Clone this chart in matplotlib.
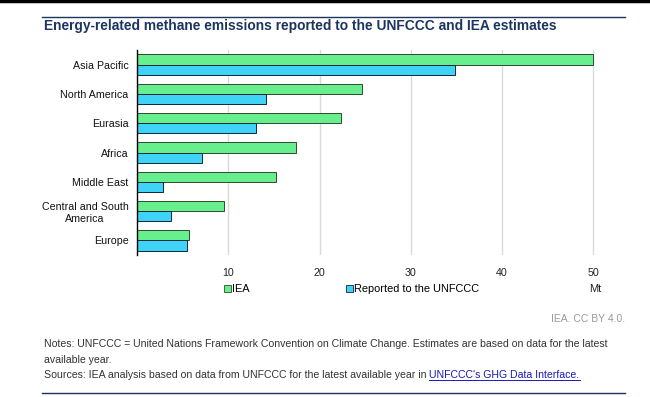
import matplotlib
matplotlib.use("Agg")
import matplotlib.pyplot as plt
import numpy as np
from matplotlib.lines import Line2D
from matplotlib.patches import Patch

plt.rcParams['font.family'] = ['Liberation Sans', 'DejaVu Sans']

# data (Mt)
regions = ["Asia Pacific", "North America", "Eurasia", "Africa", "Middle East",
           "Central and South\nAmerica", "Europe"]
iea = [49.9, 24.7, 22.4, 17.4, 15.2, 9.5, 5.7]
unfccc = [34.8, 14.1, 13.0, 7.1, 2.8, 3.7, 5.5]
xticks = [10, 20, 30, 40, 50]

green = "#66ef8c"
blue = "#3ed3f7"
navy = "#1c3560"

fig = plt.figure(figsize=(6.5, 3.97), dpi=100)
ax = fig.add_axes([137 / 650, 1 - 255 / 397, (602.6 - 137) / 650, 205 / 397])

y = np.arange(len(regions))
h = 0.35
ax.barh(y - h / 2, iea, height=h, color=green, edgecolor="#2f4a2f", linewidth=0.7, zorder=3)
ax.barh(y + h / 2, unfccc, height=h, color=blue, edgecolor="#10283a", linewidth=0.7, zorder=3)

ax.set_ylim(len(regions) - 0.5, -0.5)
ax.set_xlim(0, 51)
ax.set_yticks(y)
ax.set_yticklabels(regions, fontsize=7.7, color="#111111")
for t in ax.get_yticklabels():
    t.set_multialignment("center")
ax.set_xticks(xticks)
ax.set_xticklabels([str(v) for v in xticks], fontsize=7.7, color="#222222")
ax.tick_params(axis="both", length=0)
ax.tick_params(axis="y", pad=6)
ax.tick_params(axis="x", pad=9)
ax.grid(axis="x", color="#dadada", linewidth=1, zorder=0)
for s in ["top", "right", "bottom"]:
    ax.spines[s].set_visible(False)
ax.spines["left"].set_color("black")
ax.spines["left"].set_linewidth(1)
ax.spines["left"].set_zorder(4)

# legends placed apart like the reference
leg_kw = dict(frameon=False, fontsize=7.9, handlelength=0.6, handleheight=0.6,
              handletextpad=0.15, borderpad=0, borderaxespad=0)
leg1 = fig.legend(handles=[Patch(facecolor=green, edgecolor="#2f4a2f", linewidth=0.6, label="IEA")],
                  loc="center left", bbox_to_anchor=(224 / 650, 1 - 289 / 397), **leg_kw)
leg2 = fig.legend(handles=[Patch(facecolor=blue, edgecolor="#10283a", linewidth=0.6,
                                 label="Reported to the UNFCCC")],
                  loc="center left", bbox_to_anchor=(346 / 650, 1 - 289 / 397), **leg_kw)
fig.text(595 / 650, 1 - 289 / 397, "Mt", fontsize=7.9, color="#222222", ha="center", va="center")

# frame lines and texts
fig.add_artist(Line2D([0, 1], [1 - 1 / 397, 1 - 1 / 397], color="black", linewidth=2.5))
fig.add_artist(Line2D([42 / 650, 625 / 650], [1 - 17 / 397, 1 - 17 / 397], color=navy, linewidth=1))
fig.add_artist(Line2D([42 / 650, 625 / 650], [1 - 392.5 / 397, 1 - 392.5 / 397], color=navy, linewidth=1))

fig.text(44 / 650, 1 - 26 / 397, "Energy-related methane emissions reported to the UNFCCC and IEA estimates",
         fontsize=9.95, fontweight="bold", color=navy, va="center")
fig.text(625 / 650, 1 - 319 / 397, "IEA. CC BY 4.0.", fontsize=7.5, color="#999999", ha="right", va="center")
fig.text(44 / 650, 1 - 344 / 397,
         "Notes: UNFCCC = United Nations Framework Convention on Climate Change. Estimates are based on data for the latest",
         fontsize=7.6, color="#333333", va="center")
fig.text(44 / 650, 1 - 360 / 397, "available year.", fontsize=7.6, color="#333333", va="center")
src = fig.text(44 / 650, 1 - 375.5 / 397,
               "Sources: IEA analysis based on data from UNFCCC for the latest available year in ",
               fontsize=7.6, color="#333333", va="center")

fig.canvas.draw()
r = fig.canvas.get_renderer()
bb = src.get_window_extent(r)
x1 = bb.x1 / fig.bbox.width
link = fig.text(x1, 1 - 375.5 / 397, "UNFCCC's GHG Data Interface.", fontsize=7.6, color="#1a1ab4", va="center")
bb2 = link.get_window_extent(r)
x2 = bb2.x1 / fig.bbox.width
yline = bb2.y0 / fig.bbox.height + 0.5 / 397
fig.add_artist(Line2D([x1, x2], [yline, yline], color="#1a1ab4", linewidth=0.7))

fig.savefig("out.png", dpi=100)
